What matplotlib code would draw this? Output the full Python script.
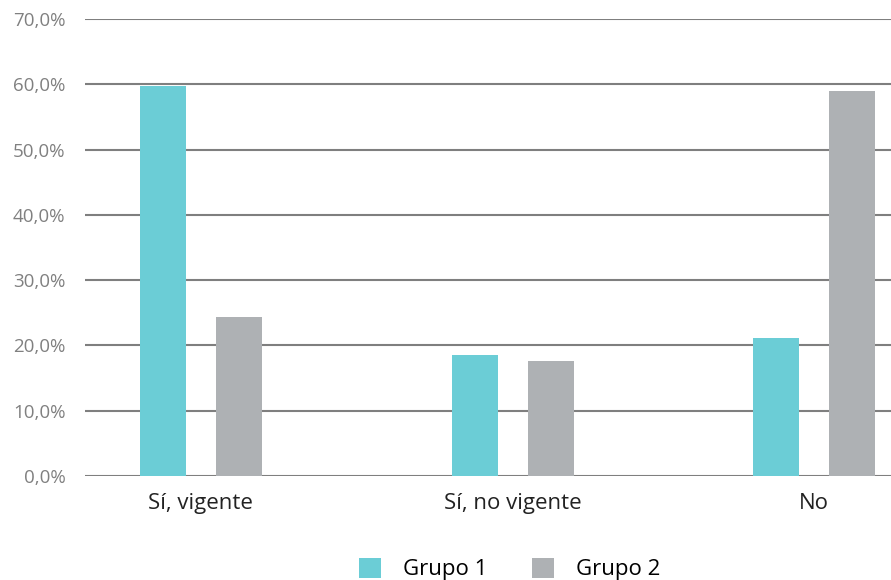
import numpy as np
import matplotlib
matplotlib.use("Agg")
from matplotlib import pyplot as plt
from matplotlib.ticker import FuncFormatter

categories = ["Sí, vigente", "Sí, no vigente", "No"]
grupo1 = [59.7, 18.6, 21.2]
grupo2 = [24.3, 17.6, 59.0]
series_names = ["Grupo 1", "Grupo 2"]

plt.rcParams['font.family'] = ['Open Sans', 'DejaVu Sans']

fig = plt.figure(figsize=(8.91, 5.8), dpi=100)
ax = fig.add_axes([85/891, 104/580, 1 - 85/891, (476 - 19)/580])

# category centres (slightly uneven spacing like the original)
x = np.array([0.0, 1.018, 2.0])
w = 0.15
off = 0.124
ax.bar(x - off, grupo1, w, color="#6BCDD6", label=series_names[0], zorder=3)
ax.bar(x + off, grupo2, w, color="#AEB1B4", label=series_names[1], zorder=3)

ax.set_ylim(0, 70)
ax.set_yticks(np.arange(0, 71, 10))
ax.yaxis.set_major_formatter(FuncFormatter(lambda v, p: ("%.1f%%" % v).replace(".", ",")))
ax.set_xlim(-0.378, 2.251)
ax.set_xticks(x)
ax.set_xticklabels(categories)

ax.grid(axis="y", color="#7f7f7f", linewidth=1.5, zorder=0)
for s in ax.spines.values():
    s.set_visible(False)
ax.tick_params(axis="y", length=0, pad=14, labelsize=13.5, labelcolor="#808080")
ax.tick_params(axis="x", length=0, pad=12, labelsize=16, labelcolor="#222222")

fig.legend(loc="lower center", bbox_to_anchor=(0.572, -0.035), ncol=2, frameon=False,
           fontsize=16, handlelength=1.0, handleheight=1.0, columnspacing=2.0,
           handletextpad=1.0)

fig.savefig("out.png", dpi=100)
